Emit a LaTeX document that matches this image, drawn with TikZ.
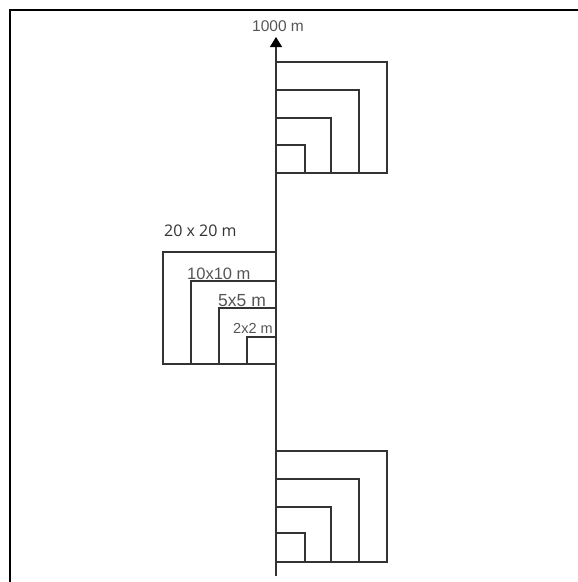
\documentclass[tikz,border=0pt]{standalone}
\usepackage{fontspec}
\setmainfont{Liberation Sans}
\newfontfamily\opensans{Open Sans}
\usetikzlibrary{arrows.meta}
\definecolor{linegray}{HTML}{333333}
\definecolor{textgray}{HTML}{555555}
\tikzset{
  sq/.style={draw=linegray, line width=1.3pt},
  axis/.style={draw=linegray, line width=1.3pt, -{Triangle[length=10pt,width=12pt,color=black]}},
  frame/.style={draw=black, line width=1.5pt},
  lbl/.style={inner sep=0pt, anchor=base west, text=textgray},
}
\begin{document}
\begin{tikzpicture}[x=1pt,y=-1pt]
\useasboundingbox (0,0) rectangle (578,582);
% frame (cropped on right and bottom)
\draw[frame] (10,582) -- (10,10) -- (578,10);
% axis
\coordinate (axbot) at (276,576);
\coordinate (axtop) at (276,37);
\draw[axis] (axbot) -- (axtop);
\node[inner sep=0pt, anchor=base, text=textgray, font=\fontsize{15.5}{15.5}\selectfont] (top) at (278,31) {1000 m};
% top squares (right side)
\draw[sq] (276,62) rectangle (387,173);
\draw[sq] (276,90) rectangle (359,173);
\draw[sq] (276,118) rectangle (331,173);
\draw[sq] (276,145) rectangle (305,173);
% middle squares (left side)
\draw[sq] (276,252) rectangle (163,364);
\draw[sq] (276,281) rectangle (191,364);
\draw[sq] (276,308) rectangle (219,364);
\draw[sq] (276,337) rectangle (247,364);
% bottom squares (right side)
\draw[sq] (276,451) rectangle (387,562);
\draw[sq] (276,479) rectangle (359,562);
\draw[sq] (276,507) rectangle (331,562);
\draw[sq] (276,533) rectangle (305,562);
% labels
\node[inner sep=0pt, anchor=base west, text=linegray, font=\opensans\fontsize{16}{16}\selectfont] (l20) at (164,236.5) {20 x 20 m};
\node[lbl, font=\fontsize{16.5}{16.5}\selectfont] (l10) at (187,279.5) {10x10 m};
\node[lbl, font=\fontsize{17.5}{17.5}\selectfont] (l5) at (218,306.5) {5x5 m};
\node[lbl, font=\fontsize{14.5}{14.5}\selectfont] (l2) at (233,333) {2x2 m};
\end{tikzpicture}
\end{document}
